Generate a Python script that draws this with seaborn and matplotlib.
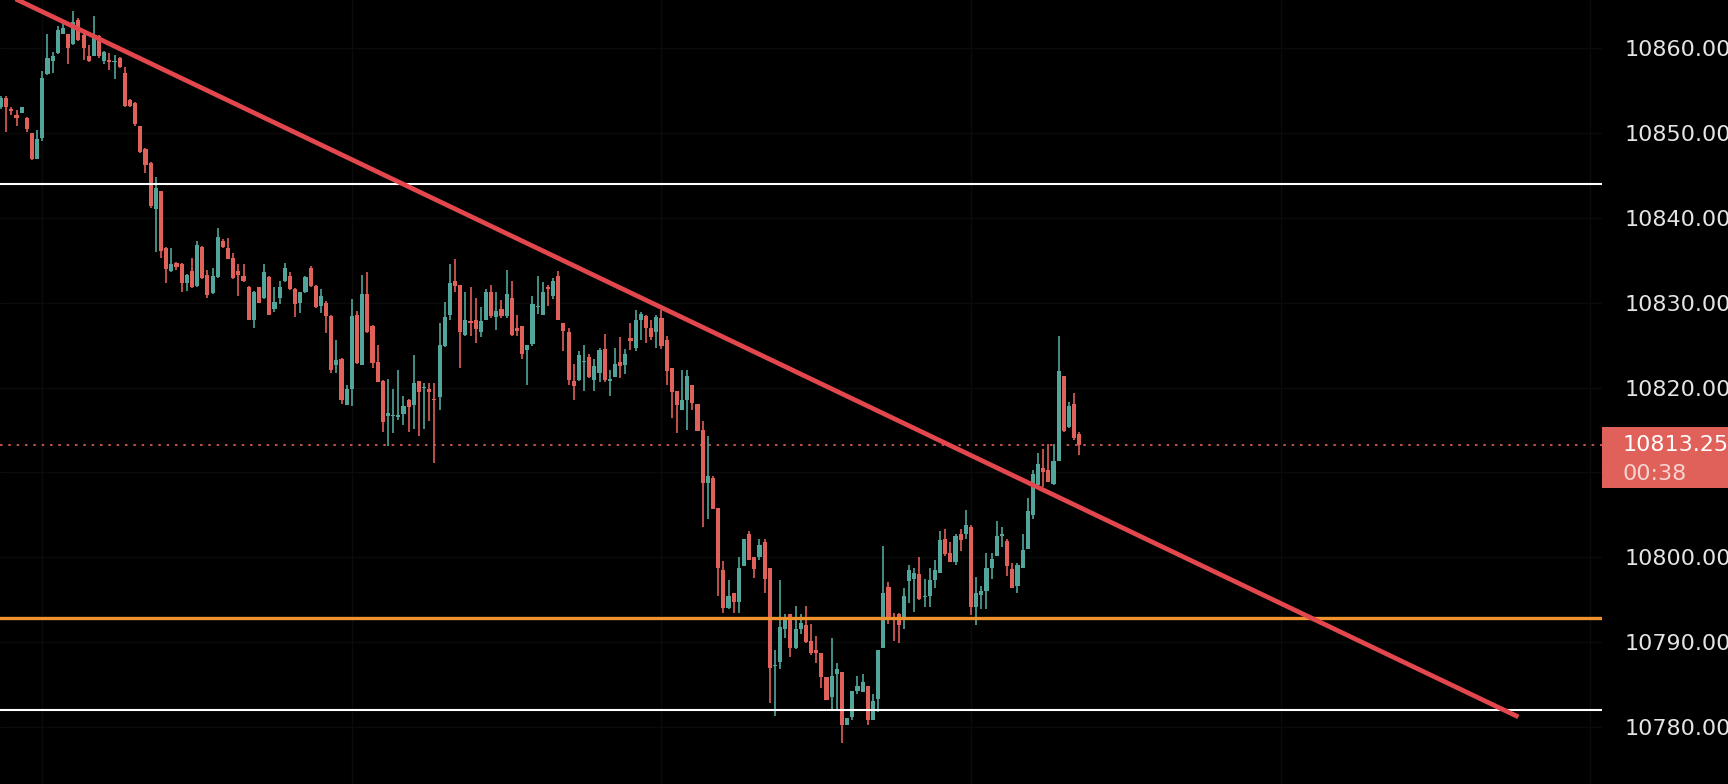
import numpy as np
import pandas as pd
import matplotlib
matplotlib.use('Agg')
import matplotlib.pyplot as plt
from matplotlib.patches import Rectangle
import seaborn as sns

# candle data (one row per bar)
opens = [10853.0, 10854.1, 10852.75, 10852.1, 10852.3, 10851.8, 10850.0, 10846.9, 10849.4, 10856.9,
         10858.5, 10859.4, 10861.7, 10861.7, 10860.5, 10863.3, 10861.5, 10859.1, 10859.0, 10861.4,
         10858.5, 10858.5, 10858.3, 10858.8, 10857.0, 10853.9, 10853.5, 10850.8, 10848.1, 10846.5,
         10841.0, 10843.1, 10836.4, 10833.7, 10834.7, 10834.6, 10832.3, 10833.7, 10832.0, 10836.6,
         10833.3, 10831.1, 10833.0, 10837.3, 10836.4, 10835.3, 10833.7, 10833.1, 10831.8, 10828.0,
         10831.8, 10830.5, 10833.0, 10829.3, 10830.5, 10832.5, 10833.1, 10831.6, 10829.9, 10831.2,
         10834.1, 10832.0, 10829.6, 10830.0, 10828.4, 10822.7, 10823.4, 10818.0, 10819.8, 10828.6,
         10822.7, 10831.0, 10827.3, 10823.0, 10820.8, 10816.6, 10816.6, 10816.5, 10816.9, 10818.5,
         10817.9, 10820.8, 10819.9, 10819.8, 10818.7, 10818.9, 10824.9, 10828.5, 10832.5, 10832.1,
         10826.2, 10827.8, 10828.0, 10826.5, 10828.0, 10831.3, 10828.3, 10829.2, 10828.4, 10830.5,
         10827.0, 10827.2, 10824.4, 10825.1, 10829.5, 10828.6, 10831.8, 10830.8, 10833.1, 10827.6,
         10826.6, 10820.8, 10820.9, 10823.0, 10823.6, 10820.9, 10821.7, 10824.5, 10820.8, 10821.3,
         10823.0, 10822.7, 10825.8, 10824.6, 10828.0, 10828.4, 10827.0, 10826.6, 10828.2, 10825.6,
         10822.3, 10819.6, 10817.3, 10818.5, 10820.3, 10818.1, 10815.0, 10808.7, 10809.4, 10805.8,
         10798.5, 10794.0, 10795.8, 10794.7, 10799.0, 10802.7, 10800.0, 10800.0, 10801.8, 10798.7,
         10787.2, 10787.7, 10791.6, 10793.3, 10789.3, 10791.5, 10792.0, 10790.1, 10789.1, 10788.7,
         10785.9, 10783.5, 10786.3, 10786.5, 10780.2, 10781.2, 10784.3, 10784.1, 10784.9, 10780.8,
         10783.3, 10789.3, 10796.5, 10793.0, 10793.3, 10792.7, 10797.2, 10797.5, 10798.0, 10795.3,
         10795.4, 10797.3, 10798.2, 10802.2, 10800.5, 10799.5, 10802.7, 10802.7, 10803.6, 10794.2,
         10795.6, 10796.0, 10798.8, 10800.2, 10802.5, 10801.9, 10798.6, 10796.6, 10798.7, 10801.0,
         10805.0, 10808.5, 10810.5, 10810.3, 10808.6, 10811.3, 10821.4, 10815.4, 10818.1, 10814.5]
highs = [10854.3, 10854.3, 10853.0, 10852.7, 10853.0, 10851.9, 10850.0, 10850.3, 10857.3, 10861.6,
         10859.5, 10862.6, 10863.3, 10861.7, 10864.3, 10863.5, 10862.1, 10860.4, 10863.8, 10861.5,
         10859.7, 10859.4, 10859.2, 10858.9, 10857.8, 10854.0, 10853.6, 10850.8, 10848.2, 10846.6,
         10844.8, 10843.1, 10836.5, 10836.4, 10834.8, 10834.7, 10833.4, 10835.3, 10837.3, 10836.7,
         10833.9, 10834.1, 10838.8, 10837.5, 10837.6, 10835.8, 10834.6, 10834.6, 10832.0, 10831.4,
         10831.9, 10834.6, 10833.1, 10831.8, 10832.6, 10834.7, 10833.6, 10831.7, 10831.3, 10833.1,
         10834.3, 10832.1, 10831.6, 10830.2, 10828.5, 10825.6, 10823.5, 10820.3, 10830.4, 10829.0,
         10833.3, 10833.6, 10827.4, 10825.0, 10820.9, 10821.0, 10819.8, 10822.1, 10819.0, 10818.7,
         10823.8, 10820.8, 10820.5, 10820.5, 10820.5, 10827.6, 10830.1, 10834.6, 10835.2, 10832.1,
         10831.2, 10831.9, 10830.5, 10829.5, 10831.6, 10832.1, 10831.3, 10830.3, 10833.8, 10832.5,
         10828.5, 10827.2, 10825.0, 10830.8, 10833.1, 10832.4, 10832.1, 10832.9, 10833.7, 10827.6,
         10827.0, 10822.8, 10824.3, 10825.0, 10824.0, 10823.4, 10824.6, 10826.3, 10822.1, 10824.6,
         10825.9, 10824.5, 10827.6, 10829.1, 10828.9, 10828.5, 10828.0, 10828.5, 10829.1, 10826.1,
         10822.3, 10819.6, 10822.1, 10822.1, 10820.3, 10818.1, 10816.1, 10814.3, 10809.6, 10805.8,
         10799.6, 10797.3, 10795.8, 10800.0, 10802.2, 10803.1, 10800.0, 10802.2, 10802.2, 10798.7,
         10789.1, 10797.3, 10793.3, 10793.3, 10794.3, 10793.3, 10794.3, 10792.2, 10790.7, 10788.7,
         10785.9, 10790.5, 10787.5, 10786.5, 10781.1, 10784.3, 10786.0, 10786.2, 10784.9, 10783.9,
         10789.1, 10801.3, 10797.1, 10793.5, 10793.5, 10796.4, 10799.1, 10798.7, 10800.0, 10797.5,
         10798.7, 10799.7, 10803.1, 10803.3, 10801.8, 10802.7, 10803.3, 10805.6, 10803.8, 10797.7,
         10796.6, 10800.5, 10800.5, 10804.3, 10803.6, 10802.2, 10799.3, 10799.3, 10802.8, 10807.0,
         10810.3, 10812.3, 10812.8, 10813.4, 10813.4, 10826.1, 10821.4, 10818.3, 10819.3, 10814.8]
lows = [10852.8, 10850.1, 10852.1, 10850.8, 10852.3, 10850.1, 10846.8, 10846.9, 10849.0, 10856.8,
        10857.1, 10859.3, 10861.6, 10858.1, 10860.3, 10860.8, 10858.6, 10858.4, 10859.0, 10858.8,
        10858.1, 10857.4, 10856.4, 10857.6, 10853.1, 10853.0, 10850.8, 10847.6, 10845.3, 10841.2,
        10836.0, 10835.3, 10832.3, 10833.6, 10833.8, 10831.2, 10831.4, 10831.7, 10831.9, 10832.8,
        10830.6, 10831.0, 10832.9, 10836.4, 10835.1, 10832.8, 10830.8, 10832.4, 10827.9, 10827.0,
        10829.9, 10830.4, 10828.5, 10828.9, 10829.8, 10832.4, 10831.5, 10828.3, 10828.8, 10831.1,
        10831.9, 10829.4, 10828.8, 10826.4, 10821.7, 10821.7, 10818.1, 10818.0, 10817.8, 10822.8,
        10822.6, 10826.4, 10822.3, 10820.6, 10814.8, 10813.1, 10814.6, 10816.2, 10815.6, 10814.8,
        10815.1, 10814.3, 10815.1, 10816.1, 10811.1, 10817.4, 10824.8, 10827.9, 10831.3, 10822.3,
        10826.1, 10826.1, 10825.3, 10826.0, 10827.9, 10828.2, 10826.8, 10828.2, 10828.2, 10826.1,
        10826.1, 10823.4, 10820.3, 10824.9, 10828.7, 10828.5, 10829.6, 10830.4, 10828.0, 10824.3,
        10820.3, 10818.5, 10820.8, 10819.6, 10821.1, 10819.6, 10820.7, 10820.6, 10819.0, 10821.3,
        10821.1, 10821.6, 10824.4, 10824.3, 10825.6, 10825.3, 10825.6, 10824.6, 10824.5, 10820.3,
        10816.4, 10814.6, 10817.3, 10815.0, 10817.4, 10814.9, 10803.6, 10804.5, 10805.7, 10795.4,
        10793.4, 10793.9, 10793.4, 10793.4, 10799.0, 10799.7, 10797.6, 10799.7, 10795.8, 10782.9,
        10781.3, 10786.9, 10790.5, 10788.3, 10789.2, 10791.0, 10789.9, 10788.5, 10787.6, 10784.6,
        10783.2, 10782.0, 10782.0, 10778.1, 10780.2, 10780.8, 10783.9, 10784.1, 10780.3, 10780.8,
        10781.8, 10789.3, 10792.2, 10790.1, 10789.9, 10791.6, 10794.6, 10793.6, 10795.0, 10794.1,
        10794.1, 10796.4, 10798.2, 10800.1, 10799.5, 10799.1, 10800.8, 10802.2, 10793.2, 10792.0,
        10793.9, 10793.9, 10797.4, 10800.2, 10801.2, 10797.8, 10796.4, 10795.8, 10798.7, 10801.0,
        10804.5, 10808.3, 10808.3, 10808.9, 10808.5, 10811.3, 10814.8, 10815.2, 10813.8, 10812.1]
closes = [10854.1, 10853.0, 10852.6, 10851.8, 10853.0, 10850.4, 10846.9, 10849.3, 10856.5, 10858.8,
          10859.1, 10862.1, 10862.3, 10860.0, 10863.0, 10860.9, 10860.0, 10858.5, 10861.5, 10859.0,
          10859.5, 10858.4, 10858.5, 10857.8, 10853.2, 10853.2, 10851.0, 10847.8, 10846.2, 10841.4,
          10843.5, 10836.1, 10834.0, 10834.5, 10834.2, 10832.3, 10833.3, 10831.8, 10836.8, 10832.9,
          10830.9, 10833.1, 10837.7, 10836.5, 10835.2, 10832.9, 10833.2, 10832.5, 10828.0, 10831.2,
          10830.0, 10833.6, 10828.6, 10830.1, 10831.8, 10834.1, 10831.6, 10829.8, 10831.2, 10833.0,
          10832.0, 10829.5, 10830.8, 10828.4, 10822.1, 10823.3, 10818.5, 10819.8, 10828.4, 10822.9,
          10831.0, 10826.5, 10822.9, 10820.7, 10816.0, 10817.0, 10816.8, 10816.8, 10817.8, 10817.7,
          10820.5, 10819.5, 10820.0, 10819.5, 10818.5, 10825.0, 10828.3, 10832.3, 10832.0, 10826.5,
          10828.0, 10827.6, 10826.9, 10827.8, 10831.3, 10828.4, 10829.0, 10828.4, 10831.0, 10826.2,
          10826.7, 10823.9, 10825.0, 10829.8, 10829.6, 10831.3, 10831.6, 10832.6, 10828.0, 10826.7,
          10820.9, 10820.2, 10823.8, 10823.1, 10821.2, 10822.5, 10824.4, 10820.9, 10821.0, 10822.8,
          10822.5, 10824.0, 10825.5, 10827.9, 10828.7, 10827.0, 10826.0, 10828.3, 10824.9, 10822.0,
          10819.5, 10817.9, 10818.5, 10821.4, 10818.2, 10814.9, 10808.7, 10809.6, 10805.7, 10798.7,
          10794.0, 10795.4, 10794.7, 10798.8, 10802.2, 10799.7, 10798.6, 10801.5, 10797.5, 10787.0,
          10787.3, 10791.8, 10792.6, 10789.3, 10791.5, 10792.3, 10790.0, 10788.7, 10788.7, 10785.9,
          10783.2, 10786.0, 10786.8, 10780.2, 10781.1, 10784.3, 10784.9, 10785.3, 10780.8, 10783.1,
          10789.1, 10795.8, 10792.6, 10792.6, 10792.0, 10795.5, 10798.5, 10798.2, 10795.1, 10795.5,
          10797.3, 10798.5, 10802.0, 10800.4, 10799.5, 10802.5, 10802.0, 10803.8, 10794.2, 10795.8,
          10796.0, 10798.8, 10799.8, 10802.5, 10802.7, 10799.0, 10796.4, 10799.1, 10800.9, 10805.4,
          10809.8, 10811.0, 10810.0, 10808.9, 10811.3, 10821.9, 10814.9, 10817.8, 10814.1, 10813.25]

# drawn levels
resistance_level = 10844.0
support_level = 10782.0
orange_level = 10792.8
trend_x = [-0.2, 294.1]
trend_y = [10866.65, 10781.2]
timer_text = '00:38'
price_ticks = [10780, 10790, 10800, 10810, 10820, 10830, 10840, 10850, 10860]
hidden_tick = 10810  # sits under the price tag

df = pd.DataFrame({'open': opens, 'high': highs, 'low': lows, 'close': closes})
df['idx'] = np.arange(len(df))
up = df['close'] >= df['open']

GREEN = '#52a59a'
RED = '#e0605a'
W, H = 1728, 784
panel_px = 1602
ymin, ymax = 10773.3, 10865.65

sns.set_theme(style='dark', rc={'axes.facecolor': 'black', 'figure.facecolor': 'black'})
plt.rcParams['font.family'] = ['DejaVu Sans']

fig = plt.figure(figsize=(W / 100, H / 100), dpi=100)
ax = fig.add_axes([0, 0, panel_px / W, 1])
ax.set_facecolor('black')

# very faint grid
for t in price_ticks:
    ax.axhline(t, color='#0b0b0b', lw=1, zorder=0)
for gx in range(8, 320, 60):
    ax.axvline(gx, color='#0b0b0b', lw=1, zorder=0)

# wicks and bodies
colors = np.where(up, GREEN, RED)
ax.vlines(df['idx'], df['low'], df['high'], colors=colors, lw=1.2, zorder=2)
body_bottom = np.minimum(df['open'], df['close'])
body_h = np.maximum(np.abs(df['close'] - df['open']), 0.16)
ax.bar(df['idx'], body_h, bottom=body_bottom, width=0.8, color=colors,
       edgecolor='none', linewidth=0, zorder=3)

# levels
ax.axhline(resistance_level, color='white', lw=1.5, zorder=4)
ax.axhline(support_level, color='white', lw=1.5, zorder=4)
ax.axhline(orange_level, color='#f0922e', lw=2.4, zorder=4)
last = closes[-1]
ax.axhline(last, color=RED, lw=1.2, ls=(0, (1.5, 3.5)), zorder=1)

sns.lineplot(x=trend_x, y=trend_y, ax=ax, color='#e2474d', lw=3.4,
             solid_capstyle='butt', zorder=5)

ax.set_xlim(-0.2, 310.3)
ax.set_ylim(ymin, ymax)
ax.set_xticks([])
ax.yaxis.tick_right()
ax.set_yticks(price_ticks)
ax.set_yticklabels(['' if t == hidden_tick else f'{t:.2f}' for t in price_ticks])
ax.tick_params(axis='y', length=0, pad=16.5, labelsize=16, labelcolor='#e4e4e4')
for s in ax.spines.values():
    s.set_visible(False)
ax.set_xlabel('')
ax.set_ylabel('')

# price tag on the axis panel
y_line = (ymax - last) / (ymax - ymin) * H
tag_top = y_line - 17.5
tag_bot = y_line + 43.5
fig.patches.append(Rectangle((panel_px / W, 1 - tag_bot / H), (W - panel_px) / W,
                             (tag_bot - tag_top) / H, transform=fig.transFigure,
                             facecolor=RED, edgecolor='none', zorder=10))
fig.text(1623 / W, 1 - (y_line - 2) / H, f'{last:.2f}', color='white', fontsize=16,
         va='center_baseline', ha='left', zorder=11)
fig.text(1623 / W, 1 - (y_line + 27) / H, timer_text, color='#f6d4d0', fontsize=16,
         va='center_baseline', ha='left', zorder=11)

fig.savefig('out.png', dpi=100, facecolor='black')
